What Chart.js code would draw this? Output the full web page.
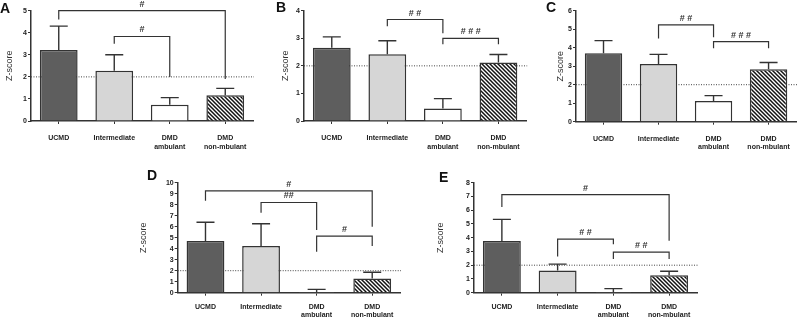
<!DOCTYPE html>
<html>
<head>
<meta charset="utf-8">
<script src="https://cdn.jsdelivr.net/npm/chart.js@4/dist/chart.umd.min.js"></script>
<style>
  body { margin: 0; background: #fff; width: 800px; height: 319px; overflow: hidden; position: relative; }
  .box { position: absolute; }
</style>
</head>
<body>
<div class="box" id="boxA"><canvas id="chartA"></canvas></div>
<div class="box" id="boxB"><canvas id="chartB"></canvas></div>
<div class="box" id="boxC"><canvas id="chartC"></canvas></div>
<div class="box" id="boxD"><canvas id="chartD"></canvas></div>
<div class="box" id="boxE"><canvas id="chartE"></canvas></div>
<script>
// groups on the x axis
var groups = ["UCMD", "Intermediate", ["DMD", "ambulant"], ["DMD", "non-mbulant"]];

// mean Z-score and top of the error bar, per panel
var meanA = [3.22, 2.28, 0.74, 1.17];
var errA = [4.30, 3.00, 1.06, 1.48];
var meanB = [2.66, 2.42, 0.45, 2.12];
var errB = [3.05, 2.91, 0.81, 2.41];
var meanC = [3.70, 3.12, 1.12, 2.84];
var errC = [4.38, 3.64, 1.41, 3.20];
var meanD = [4.70, 4.25, 0.07, 1.30];
var errD = [6.40, 6.27, 0.30, 1.86];
var meanE = [3.76, 1.62, 0.06, 1.27];
var errE = [5.33, 2.08, 0.30, 1.56];

// y axis maximum per panel
var maxA = 5, maxB = 4, maxC = 6, maxD = 10, maxE = 8;

// threshold line
var cutoff = 2;

// significance brackets: [from group, to group, bar height, left leg end, right leg end, label]
var sigA = [[0, 3, 5.0, 4.6, 1.9, "#"], [1, 2, 3.83, 3.5, 2.0, "#"]];
var sigB = [[1, 2, 3.68, 3.44, 3.18, "# #"], [2, 3, 3.0, 2.78, 2.78, "# # #"]];
var sigC = [[1, 2, 5.23, 4.5, 4.57, "# #"], [2, 3, 4.33, 3.97, 3.97, "# # #"]];
var sigD = [[0, 3, 9.25, 8.36, 6.0, "#"], [1, 2, 8.2, 7.27, 5.7, "##"], [2, 3, 5.15, 3.73, 4.25, "#"]];
var sigE = [[0, 3, 7.13, 6.23, 3.77, "#"], [1, 2, 3.9, 2.63, 3.53, "# #"], [2, 3, 2.95, 2.46, 2.46, "# #"]];

var ink = "#333";

function hatch() {
  var s = 4;
  var c = document.createElement("canvas");
  c.width = s; c.height = s;
  var g = c.getContext("2d");
  g.fillStyle = "#fff";
  g.fillRect(0, 0, s, s);
  g.strokeStyle = "#111";
  g.lineWidth = 1.5;
  g.beginPath();
  g.moveTo(0, 0); g.lineTo(s, s);
  g.moveTo(-1, s - 1); g.lineTo(1, s + 1);
  g.moveTo(s - 1, -1); g.lineTo(s + 1, 1);
  g.stroke();
  return document.getElementById("chartA").getContext("2d").createPattern(c, "repeat");
}
var hatchFill = hatch();

const makePanel = (id, p, means, errs, ymax, sig) => {
  var box = document.getElementById("box" + id);
  box.style.left = p.left + "px";
  box.style.top = p.top + "px";
  var cv = document.getElementById("chart" + id);
  cv.width = p.w; cv.height = p.h;
  cv.style.width = p.w + "px"; cv.style.height = p.h + "px";

  var extras = {
    id: "extras" + id,
    beforeDatasetsDraw(chart) {
      var ctx = chart.ctx, a = chart.chartArea, y = chart.scales.y.getPixelForValue(cutoff);
      ctx.save();
      ctx.strokeStyle = "#444";
      ctx.lineWidth = 1;
      ctx.setLineDash([1, 1.5]);
      ctx.beginPath();
      ctx.moveTo(a.left, y); ctx.lineTo(a.right + 1, y);
      ctx.stroke();
      ctx.restore();
    },
    afterDatasetsDraw(chart) {
      var ctx = chart.ctx, ys = chart.scales.y, xs = chart.scales.x;
      var bars = chart.getDatasetMeta(0).data;
      ctx.save();
      ctx.strokeStyle = ink;
      ctx.lineWidth = 1.4;
      bars.forEach((b, i) => {
        var y0 = ys.getPixelForValue(means[i]), y1 = ys.getPixelForValue(errs[i]);
        ctx.beginPath();
        ctx.moveTo(b.x, y0); ctx.lineTo(b.x, y1);
        ctx.moveTo(b.x - 9, y1); ctx.lineTo(b.x + 9, y1);
        ctx.stroke();
      });
      ctx.lineWidth = 1.2;
      ctx.fillStyle = ink;
      ctx.font = "bold 9px 'Liberation Sans', Arial, sans-serif";
      ctx.textAlign = "center";
      ctx.textBaseline = "bottom";
      sig.forEach(s => {
        var x1 = xs.getPixelForValue(s[0]), x2 = xs.getPixelForValue(s[1]);
        var yt = ys.getPixelForValue(s[2]);
        ctx.beginPath();
        ctx.moveTo(x1, ys.getPixelForValue(s[3]));
        ctx.lineTo(x1, yt); ctx.lineTo(x2, yt);
        ctx.lineTo(x2, ys.getPixelForValue(s[4]));
        ctx.stroke();
        ctx.fillText(s[5], (x1 + x2) / 2, yt - 2);
      });
      ctx.fillStyle = "#111";
      ctx.font = "bold 14px 'Liberation Sans', Arial, sans-serif";
      ctx.textAlign = "left";
      ctx.textBaseline = "alphabetic";
      ctx.fillText(id, p.letterX - p.left, p.letterY - p.top);
      ctx.restore();
    }
  };

  new Chart(cv, {
    type: "bar",
    data: {
      labels: groups,
      datasets: [{
        data: means,
        backgroundColor: ["#5e5e5e", "#d6d6d6", "#ffffff", hatchFill],
        borderColor: ink,
        borderWidth: 1.5,
        barPercentage: 0.68,
        categoryPercentage: 1
      }]
    },
    plugins: [extras],
    options: {
      responsive: false,
      animation: false,
      events: [],
      layout: {
        padding: {
          left: p.padLeft,
          top: p.chartTop - p.top,
          right: p.left + p.w - p.chartRight,
          bottom: p.top + p.h - p.chartBottom - 32
        }
      },
      plugins: { legend: { display: false }, tooltip: { enabled: false } },
      scales: {
        x: {
          afterFit: s => { s.height = 32; },
          grid: { drawOnChartArea: false, offset: false, tickLength: 3, color: ink, tickWidth: 1 },
          border: { color: ink, width: 1.5 },
          ticks: {
            color: "#222",
            padding: p.labelPad,
            maxRotation: 0,
            autoSkip: false,
            font: { family: "'Liberation Sans', Arial, sans-serif", size: 7, weight: "bold", lineHeight: 1.2 }
          }
        },
        y: {
          min: 0,
          max: ymax,
          afterFit: s => { s.width = p.chartLeft - p.left - p.padLeft; },
          grid: { drawOnChartArea: false, tickLength: 3, color: ink, tickWidth: 1 },
          border: { color: ink, width: 1.5 },
          ticks: {
            stepSize: 1,
            autoSkip: false,
            color: "#222",
            padding: 1,
            font: { family: "'Liberation Sans', Arial, sans-serif", size: 7, weight: "bold" }
          },
          title: {
            display: true,
            text: "Z-score",
            color: "#333",
            padding: 0,
            font: { family: "'Liberation Sans', Arial, sans-serif", size: 9, lineHeight: 1.2 }
          }
        }
      }
    }
  });
};

makePanel("A", { left: 0, top: 0, w: 258, h: 160, padLeft: 4, chartLeft: 31, chartTop: 10.7, chartRight: 253, chartBottom: 121, labelPad: 10, letterX: 0, letterY: 12.5 }, meanA, errA, maxA, sigA);
makePanel("B", { left: 262, top: 0, w: 268, h: 160, padLeft: 18, chartLeft: 304, chartTop: 10.7, chartRight: 527, chartBottom: 121, labelPad: 10, letterX: 276, letterY: 11.5 }, meanB, errB, maxB, sigB);
makePanel("C", { left: 530, top: 0, w: 270, h: 160, padLeft: 25, chartLeft: 576, chartTop: 10.7, chartRight: 798, chartBottom: 121.7, labelPad: 10, letterX: 546, letterY: 11.5 }, meanC, errC, maxC, sigC);
makePanel("D", { left: 136, top: 162, w: 270, h: 165, padLeft: 2, chartLeft: 177.7, chartTop: 182.7, chartRight: 400, chartBottom: 292.7, labelPad: 7, letterX: 147, letterY: 180 }, meanD, errD, maxD, sigD);
makePanel("E", { left: 430, top: 162, w: 275, h: 165, padLeft: 5, chartLeft: 474, chartTop: 182.7, chartRight: 697, chartBottom: 292.7, labelPad: 7, letterX: 439, letterY: 181.5 }, meanE, errE, maxE, sigE);
</script>
</body>
</html>
